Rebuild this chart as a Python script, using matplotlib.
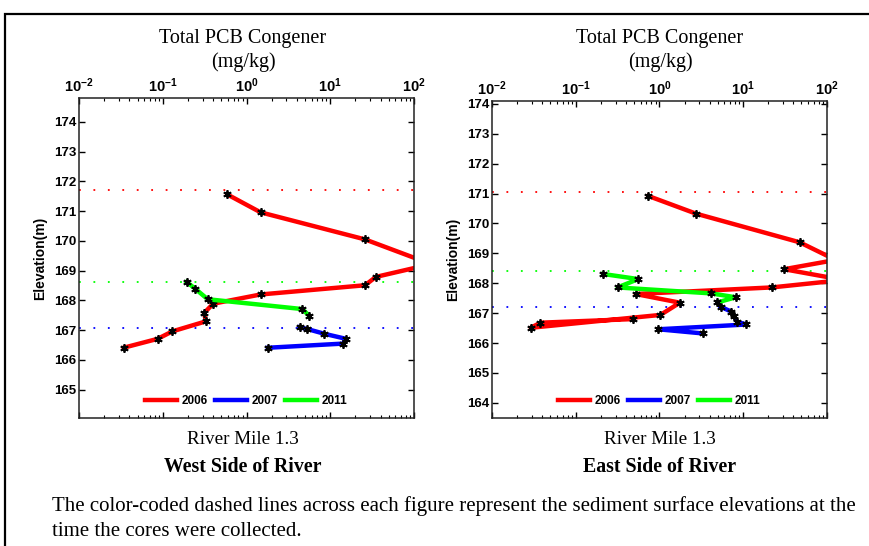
import matplotlib.pyplot as plt
from matplotlib.lines import Line2D
from matplotlib.patches import Rectangle
from matplotlib.ticker import LogLocator, FixedLocator, FixedFormatter, NullFormatter

plt.rcParams['font.family'] = ['Liberation Sans', 'DejaVu Sans']
plt.rcParams['mathtext.fontset'] = 'custom'
plt.rcParams['mathtext.rm'] = 'Liberation Sans:bold'
plt.rcParams['mathtext.bf'] = 'Liberation Sans:bold'

years = [2006, 2007, 2011]
year_colors = ['#ff0000', '#0000ff', '#00ff00']

# West side cores: total PCB (mg/kg) vs elevation (m)
west_2006_pcb = [0.59, 1.47, 26, 160, 35, 26, 1.47, 0.40, 0.31, 0.33, 0.13, 0.087, 0.034]
west_2006_elev = [171.56, 170.96, 170.05, 169.22, 168.79, 168.51, 168.20, 167.89, 167.57, 167.30, 166.96, 166.71, 166.41]
west_2007_pcb = [4.3, 5.3, 8.5, 15.4, 14.2, 1.79]
west_2007_elev = [167.10, 167.04, 166.88, 166.71, 166.55, 166.41]
west_2011_pcb = [0.193, 0.245, 0.344, 4.64, 5.57]
west_2011_elev = [168.62, 168.39, 168.04, 167.71, 167.49]
west_surface = [171.72, 167.08, 168.62]

# East side cores
east_2006_pcb = [0.74, 2.74, 47.6, 128, 31, 158, 22, 0.52, 1.76, 1.03, 0.029, 0.038, 0.48]
east_2006_elev = [170.92, 170.33, 169.37, 168.78, 168.47, 168.11, 167.86, 167.64, 167.35, 166.94, 166.51, 166.68, 166.80]
east_2007_pcb = [5.42, 7.27, 7.82, 8.5, 11.0, 0.97, 3.33]
east_2007_elev = [167.21, 167.05, 166.90, 166.71, 166.62, 166.46, 166.32]
east_2011_pcb = [0.213, 0.56, 0.317, 4.2, 8.2, 4.95]
east_2011_elev = [168.31, 168.14, 167.86, 167.66, 167.53, 167.36]
east_surface = [171.05, 167.21, 168.41]

x_ticks = [1e-2, 1e-1, 1e0, 1e1, 1e2]
x_tick_labels = [r'$\mathbf{10^{-2}}$', r'$\mathbf{10^{-1}}$', r'$\mathbf{10^{0}}$',
                 r'$\mathbf{10^{1}}$', r'$\mathbf{10^{2}}$']

serif = ['Liberation Serif', 'DejaVu Serif']

fig = plt.figure(figsize=(8.7, 5.46), dpi=100)

# outer frame around the whole figure
fig.patches.append(Rectangle((0.0057, -0.1), 1.2, 1.0744, transform=fig.transFigure,
                             fill=False, edgecolor='black', linewidth=1.6))


def core_panel(rect, series, surface, ylim, yticks, cx, side):
    ax = fig.add_axes(rect)
    for level, c in zip(surface, year_colors):
        ax.axhline(level, color=c, linestyle=(0, (1, 7)), linewidth=1.3)
    for (pcb, elev), c in zip(series, year_colors):
        ax.plot(pcb, elev, color=c, linewidth=3.2, marker=(6, 2, 0),
                markersize=6, markeredgecolor='black', markeredgewidth=1.3)
    ax.set_xscale('log')
    ax.set_xlim(1e-2, 1e2)
    ax.set_ylim(*ylim)
    ax.xaxis.set_major_locator(FixedLocator(x_ticks))
    ax.xaxis.set_major_formatter(FixedFormatter(x_tick_labels))
    ax.xaxis.set_minor_locator(LogLocator(base=10, subs=range(2, 10)))
    ax.xaxis.set_minor_formatter(NullFormatter())
    ax.set_yticks(yticks)
    ax.set_yticklabels([str(t) for t in yticks], fontweight='bold')
    ax.tick_params(axis='both', which='both', direction='in', top=True, right=True,
                   labeltop=True, labelbottom=False, labelsize=9.5, pad=2)
    ax.tick_params(axis='x', which='major', labelsize=10.5)
    ax.tick_params(axis='both', which='major', length=4, width=1)
    ax.tick_params(axis='x', which='minor', length=2.5, width=0.8)
    for s in ax.spines.values():
        s.set_linewidth(1.1)
        s.set_color('#222222')
    ax.set_ylabel('Elevation(m)', fontweight='bold', fontsize=10, labelpad=5)

    handles = [Line2D([], [], color=c, linewidth=3.2) for c in year_colors]
    ax.legend(handles, [str(y) for y in years], loc='lower center', ncol=3,
              frameon=False, bbox_to_anchor=(0.5, 0.0), handlelength=2.7,
              handletextpad=0.4, columnspacing=0.6,
              prop={'weight': 'bold', 'size': 8.5})

    fig.text(cx, 1 - 39 / 546, 'Total PCB Congener', ha='center', va='center',
             family=serif, fontsize=14.5)
    fig.text(cx, 1 - 62 / 546, '(mg/kg)', ha='center', va='center',
             family=serif, fontsize=14.5)
    fig.text(cx, 1 - 440 / 546, 'River Mile 1.3', ha='center', va='center',
             family=serif, fontsize=13.8)
    fig.text(cx, 1 - 467 / 546, side, ha='center', va='center',
             family=serif, fontsize=14.3, fontweight='bold')
    return ax


core_panel([0.0908, 0.2344, 0.3851, 0.5861],
           [(west_2006_pcb, west_2006_elev), (west_2007_pcb, west_2007_elev),
            (west_2011_pcb, west_2011_elev)],
           west_surface, (164.05, 174.8), list(range(165, 175)),
           243 / 870, 'West Side of River')

core_panel([0.5655, 0.2344, 0.3847, 0.5812],
           [(east_2006_pcb, east_2006_elev), (east_2007_pcb, east_2007_elev),
            (east_2011_pcb, east_2011_elev)],
           east_surface, (163.49, 174.11), list(range(164, 175)),
           660 / 870, 'East Side of River')

fig.text(52 / 870, 1 - 506 / 546,
         'The color-coded dashed lines across each figure represent the sediment surface elevations at the',
         ha='left', va='center', family=serif, fontsize=15)
fig.text(52 / 870, 1 - 531 / 546, 'time the cores were collected.',
         ha='left', va='center', family=serif, fontsize=15)

fig.savefig('out.png', dpi=100)
